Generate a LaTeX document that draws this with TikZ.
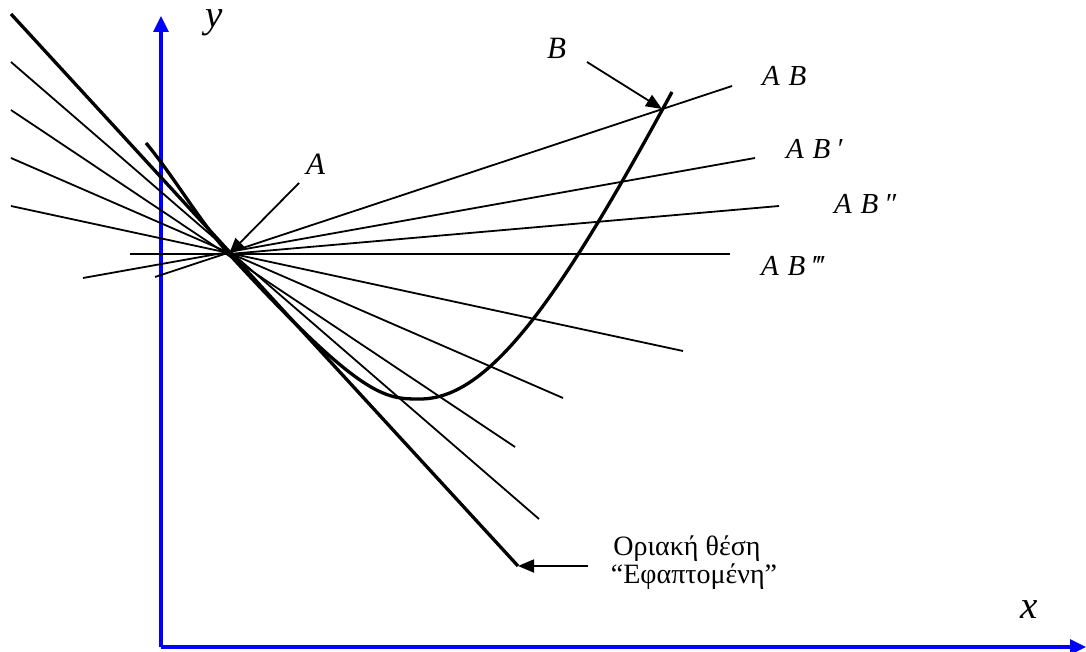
\documentclass[tikz,border=0pt]{standalone}
\usepackage{fontspec}
\setmainfont{Liberation Serif}
\usetikzlibrary{arrows.meta}
\begin{document}
\begin{tikzpicture}[x=1pt,y=-1pt,
  thinline/.style={line width=1.8pt},
  thickline/.style={line width=3.3pt},
  axisline/.style={blue, line width=3.2pt, -{Triangle[length=16pt,width=15pt]}},
  pointer/.style={line width=1.8pt, -{Triangle[length=16pt,width=13pt]}},
  axlabel/.style={font=\fontsize{39}{39}\selectfont\itshape, anchor=base west, inner sep=0pt},
  ptlabel/.style={font=\fontsize{31}{31}\selectfont\itshape, anchor=base west, inner sep=0pt},
  seclabel/.style={font=\fontsize{29}{29}\selectfont\itshape, anchor=base west, inner sep=0pt},
  note/.style={font=\fontsize{28}{30}\selectfont, anchor=base, inner sep=0pt}]
\useasboundingbox (0,0) rectangle (1086,652);

% axes
\coordinate (O) at (161,647);
\coordinate (Ytip) at (161,16);
\coordinate (Xtip) at (1086,647);
\draw[axisline] (O) -- (Ytip);
\draw[axisline] (O) -- (Xtip);
\node[axlabel] (ylab) at (205,28) {y};
\node[axlabel] (xlab) at (1020,618) {x};

% point A
\coordinate (A) at (229,254);

% secant lines through A
\coordinate (L1a) at (11,62);  \coordinate (L1b) at (539,519);
\coordinate (L2a) at (11,110); \coordinate (L2b) at (515,447);
\coordinate (L3a) at (11,158); \coordinate (L3b) at (563,398);
\coordinate (L4a) at (11,206); \coordinate (L4b) at (683,351);
\coordinate (H1) at (130,254); \coordinate (H2) at (730,254);
\coordinate (P1a) at (83,278);  \coordinate (P1b) at (755,158);
\coordinate (Q1a) at (155,277); \coordinate (Q1b) at (732,86);
\coordinate (R1b) at (779,206);
\draw[thinline] (L1a) -- (L1b);
\draw[thinline] (L2a) -- (L2b);
\draw[thinline] (L3a) -- (L3b);
\draw[thinline] (L4a) -- (L4b);
\draw[thinline] (H1) -- (H2);
\draw[thinline] (P1a) -- (P1b);
\draw[thinline] (Q1a) -- (Q1b);
\draw[thinline] (A) -- (R1b);

% tangent line
\coordinate (Ta) at (11,14);
\coordinate (Tb) at (518,566);
\draw[thickline] (Ta) -- (Tb);

% curve
\coordinate (C0) at (146,143);
\coordinate (V) at (420,399);
\coordinate (Bp) at (662,109);
\coordinate (Ctop) at (672,92);
\draw[thickline] (C0) .. controls (175,178) and (200,222) .. (A)
  .. controls (362,399) and (385,399) .. (V)
  .. controls (490,399) and (560,298) .. (Ctop);

% pointers and labels
\node[ptlabel] (Alab) at (306,175) {A};
\coordinate (Astart) at (299,183);
\draw[pointer] (Astart) -- (A);

\node[ptlabel] (Blab) at (547,59) {B};
\coordinate (Bstart) at (587,62);
\draw[pointer] (Bstart) -- (Bp);

\node[seclabel] (ab0) at (762,86) {A\hspace{0.3em}B};
\node[seclabel] (ab1) at (786,159) {A\hspace{0.3em}B\hspace{0.2em}′};
\node[seclabel] (ab2) at (834,214) {A\hspace{0.3em}B\hspace{0.2em}″};
\node[seclabel] (ab3) at (761,276) {A\hspace{0.3em}B\hspace{0.2em}‴};

\node[note] (lim1) at (687,555) {Οριακή θέση};
\node[note] (lim2) at (694,583) {“Εφαπτομένη”};
\coordinate (Lstart) at (588,566);
\draw[pointer] (Lstart) -- (Tb);
\end{tikzpicture}
\end{document}
